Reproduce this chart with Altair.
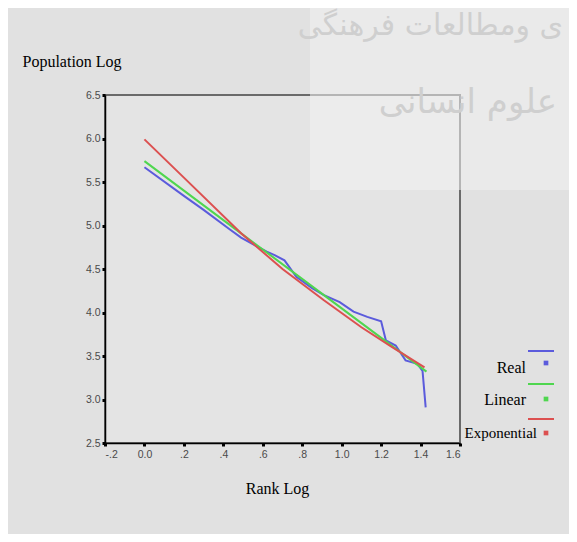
import altair as alt
import pandas as pd

# ---- data ----
series_names = ["Real", "Linear", "Exponential"]
series_colors = ["#5b5bdc", "#4fd64f", "#dc5050"]

real_x = [0.0, 0.2, 0.3, 0.43, 0.49, 0.57, 0.62, 0.66, 0.71, 0.77, 0.85, 0.91, 0.99,
          1.06, 1.13, 1.2, 1.224, 1.274, 1.324, 1.384, 1.41, 1.426]
real_y = [5.67, 5.34, 5.18, 4.96, 4.86, 4.76, 4.70, 4.66, 4.60, 4.41, 4.28, 4.20, 4.12,
          4.01, 3.95, 3.90, 3.68, 3.62, 3.45, 3.41, 3.33, 2.91]

linear_x = [0.0, 0.49, 0.91, 1.43]
linear_y = [5.74, 4.91, 4.20, 3.32]

expo_x = [0.0, 0.2, 0.49, 0.7, 0.91, 1.1, 1.25, 1.42]
expo_y = [5.99, 5.55, 4.91, 4.50, 4.14, 3.83, 3.61, 3.37]

x_ticks = [-0.2, 0.0, 0.2, 0.4, 0.6, 0.8, 1.0, 1.2, 1.4, 1.6]
y_ticks = [2.5, 3.0, 3.5, 4.0, 4.5, 5.0, 5.5, 6.0, 6.5]

watermark_1 = "ی ومطالعات فرهنگی"
watermark_2 = "علوم انسانی"

rows = []
for name, xs, ys in [("Real", real_x, real_y), ("Linear", linear_x, linear_y),
                     ("Exponential", expo_x, expo_y)]:
    for i, (xv, yv) in enumerate(zip(xs, ys)):
        rows.append({"series": name, "x": xv, "y": yv, "order": i})
df = pd.DataFrame(rows)

W, H = 355, 348
serif = "Liberation Serif"

x_label_expr = ("abs(datum.value) < 1e-9 ? '0.0' : (abs(datum.value) < 1 ? "
                "replace(replace(format(datum.value, '.1f'), '0.', '.'), '\u2212', '-') : format(datum.value, '.1f'))")

x_enc = alt.X("x:Q", scale=alt.Scale(domain=[-0.2, 1.6], nice=False, zero=False),
              axis=alt.Axis(values=x_ticks, labelExpr=x_label_expr, title="Rank Log",
                            grid=False, titleX=172, titleY=50, titleAlign="center",
                            titleBaseline="alphabetic", labelPadding=3))
y_enc = alt.Y("y:Q", scale=alt.Scale(domain=[2.5, 6.5], nice=False, zero=False),
              axis=alt.Axis(values=y_ticks, format=".1f", title="Population Log",
                            grid=False, titleAngle=0, titleX=-83, titleY=-29,
                            titleAlign="left", titleBaseline="alphabetic", labelPadding=2))

base = alt.Chart(df)

# light watermark panel and text (decoration)
panel = alt.Chart(pd.DataFrame({"a": [0]})).mark_rect(color="#f2f2f2", opacity=0.55).encode(
    x=alt.value(205), x2=alt.value(470), y=alt.value(-90), y2=alt.value(95))
wm1 = alt.Chart(pd.DataFrame({"t": [watermark_1]})).mark_text(
    font="DejaVu Sans", fontSize=30, color="#cfcfcf", align="right", baseline="alphabetic"
).encode(text="t:N", x=alt.value(458), y=alt.value(-60))
wm2 = alt.Chart(pd.DataFrame({"t": [watermark_2]})).mark_text(
    font="DejaVu Sans", fontSize=34, color="#cfcfcf", align="right", baseline="alphabetic"
).encode(text="t:N", x=alt.value(452), y=alt.value(18))

lines = base.mark_line(strokeWidth=2).encode(
    x=x_enc, y=y_enc,
    color=alt.Color("series:N", scale=alt.Scale(domain=series_names, range=series_colors),
                    legend=None),
    order="order:Q",
    detail="series:N",
)

layers = [panel, wm1, wm2, lines]

# custom SPSS-style legend
leg_line_y = [256, 289, 324]
leg_sq_y = [268, 304, 338]
leg_text_y = [278, 310, 343]
leg_text_x = [421, 421, 432]
leg_font = [16, 16, 15]
for i, name in enumerate(series_names):
    d = pd.DataFrame({"series": [name]})
    c = series_colors[i]
    layers.append(alt.Chart(d).mark_rule(color=c, strokeWidth=2).encode(
        x=alt.value(423), x2=alt.value(449), y=alt.value(leg_line_y[i])))
    layers.append(alt.Chart(d).mark_square(color=c, size=22, opacity=1).encode(
        x=alt.value(441), y=alt.value(leg_sq_y[i])))
    layers.append(alt.Chart(d).mark_text(font=serif, fontSize=leg_font[i], color="black",
                                         align="right", baseline="alphabetic").encode(
        text="series:N", x=alt.value(leg_text_x[i]), y=alt.value(leg_text_y[i])))

chart = alt.layer(*layers).properties(
    width=W, height=H,
    autosize=alt.AutoSizeParams(type="none"),
    padding={"left": 97, "top": 87, "right": 109, "bottom": 91},
    background="#e1e1e1",
).configure_view(
    stroke="#6a6a6a", strokeWidth=2, fill="#e4e4e4"
).configure_axis(
    domainColor="black", domainWidth=1.5,
    tickColor="black", tickSize=3, tickWidth=3,
    labelFont="Liberation Sans", labelFontSize=10.5, labelColor="#4a4a4a",
    titleFont=serif, titleFontSize=16, titleFontWeight="normal", titleColor="black",
)

chart.save("out.html", embed_options={"renderer": "svg", "actions": False})
